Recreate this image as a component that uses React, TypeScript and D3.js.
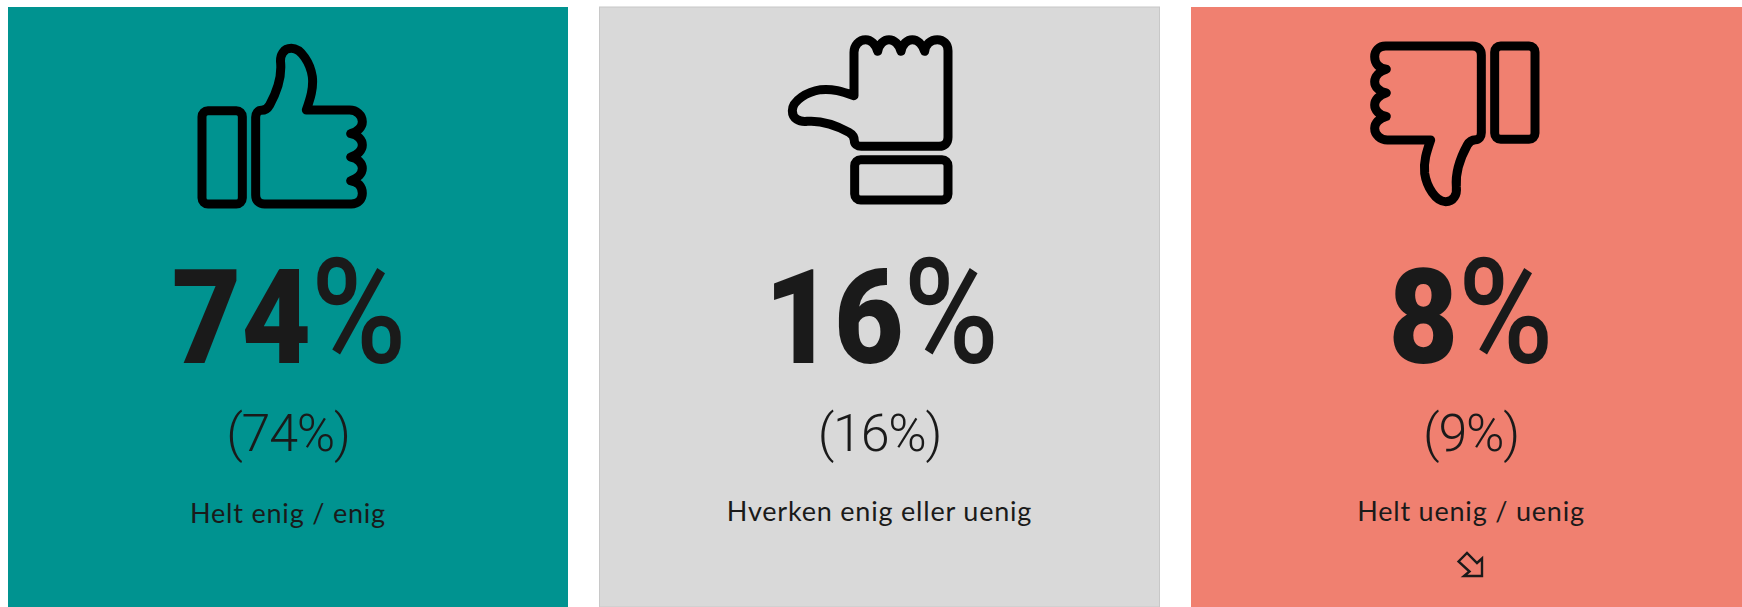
import React from "react";
import * as d3 from "d3";

// Survey answers and their previous-round figures
const categories = ["Helt enig / enig", "Hverken enig eller uenig", "Helt uenig / uenig"];
const currentShare = [74, 16, 8];
const previousShare = [74, 16, 9];

const WIDTH = 1742;
const HEIGHT = 607;
const panelFill = ["#009390", "#d9d9d9", "#f08070"];
const INK = "#1a1a1a";

// Hand outline, drawn pointing up; rotated for the other two answers
const HAND =
  "M380 240 C392 205 402 175 398 140 C392 100 365 55 335 55 C312 55 300 75 303 100 " +
  "C306 140 292 185 270 225 C263 238 255 241 245 241 C235 241 228 250 228 262 L228 495 " +
  "C228 512 238 522 255 522 L515 522 C535 522 548 508 548 490 C548 470 535 455 513 452 " +
  "C535 445 548 430 548 415 C548 400 535 385 513 381 C535 375 548 360 548 345 " +
  "C548 330 535 315 513 311 C535 305 548 290 548 275 C548 255 530 240 510 240 Z";

const iconRotation = [0, -90, 180];
const iconCentre = [
  [282, 126],
  [870, 120],
  [1455, 124],
];
// Horizontal seam between the bold figure and its percent sign, from the panel centre
const seamOffset = [23, 24, -13];
const labelBaseline = [523, 521, 521];

const panelX = d3
  .scaleBand<string>()
  .domain(categories)
  .range([8, 8 + 3 * 560 + 2 * 31.5])
  .paddingInner(31.5 / 591.5)
  .paddingOuter(0);

const percent = (v: number) => `${d3.format("d")(v)}%`;

function Hand({ cx, cy, angle }: { cx: number; cy: number; angle: number }) {
  return (
    <g
      transform={`translate(${cx},${cy}) rotate(${angle}) scale(${1 / 3}) translate(-307,-288)`}
      fill="none"
      stroke="#000"
      strokeWidth={27}
      strokeLinejoin="round"
    >
      <rect x={67} y={242} width={121} height={280} rx={18} />
      <path d={HAND} />
    </g>
  );
}

export default function App() {
  return (
    <svg
      width={WIDTH}
      height={HEIGHT}
      style={{ position: "absolute", left: 0, top: 0, background: "#fff" }}
    >
      {categories.map((cat, i) => {
        const x = panelX(cat) as number;
        const w = panelX.bandwidth();
        const cx = x + w / 2;
        const seam = cx + seamOffset[i];
        return (
          <g key={cat}>
            <rect
              x={x}
              y={7}
              width={w}
              height={HEIGHT - 7}
              fill={panelFill[i]}
              stroke={i === 1 ? "#c8c8c8" : "none"}
              strokeWidth={1}
            />
            <Hand cx={iconCentre[i][0]} cy={iconCentre[i][1]} angle={iconRotation[i]} />
            {/* Bold figure and percent sign are set separately, the sign stretched to the full figure height */}
            <text
              transform={`translate(${seam},363) scale(0.91,1)`}
              textAnchor="end"
              fill={INK}
              fontFamily="Roboto, sans-serif"
              fontSize={132}
              fontWeight={900}
            >
              {currentShare[i]}
            </text>
            <text
              transform={`translate(${seam},363) scale(0.96,1.08)`}
              textAnchor="start"
              fill={INK}
              fontFamily="Roboto, sans-serif"
              fontSize={135}
              fontWeight={500}
            >
              %
            </text>
            <text
              x={cx}
              y={451}
              textAnchor="middle"
              fill={INK}
              fontFamily="Roboto, sans-serif"
              fontWeight={300}
              fontSize={52}
              letterSpacing={-1.2}
            >
              ({percent(previousShare[i])})
            </text>
            <text
              x={cx}
              y={labelBaseline[i]}
              textAnchor="middle"
              fill={INK}
              fontFamily="Lato, sans-serif"
              fontWeight={400}
              fontSize={27}
              letterSpacing={0.8}
            >
              {cat}
            </text>
          </g>
        );
      })}
      {/* Small outlined arrow at the foot of the last panel */}
      <path
        d="M-12.5 -4.5 L-4 -13 L6 -3 L11 -7.5 L11 10 L-7 10 L-1.5 5.5 Z"
        transform="translate(1471,566)"
        fill="none"
        stroke={INK}
        strokeWidth={2.4}
        strokeLinejoin="miter"
      />
    </svg>
  );
}
